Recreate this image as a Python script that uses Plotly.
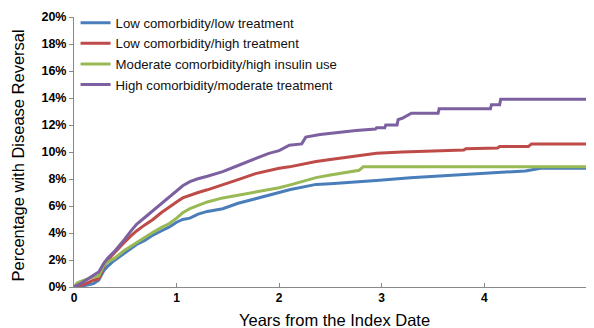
import plotly.graph_objects as go

series_names = [
    "Low comorbidity/low treatment",
    "Low comorbidity/high treatment",
    "Moderate comorbidity/high insulin use",
    "High comorbidity/moderate treatment",
]

blue_x = [0, 0.1, 0.19, 0.24, 0.29, 0.33, 0.39, 0.49, 0.55, 0.61, 0.69, 0.77, 0.85, 0.93, 1.0, 1.06, 1.13, 1.21, 1.3, 1.45, 1.6, 1.77, 1.9, 2.0, 2.1, 2.23, 2.36, 2.5, 2.7, 2.98, 3.28, 3.5, 3.73, 4.15, 4.4, 4.55, 5.0]
blue_y = [0, 0.1, 0.25, 0.5, 1.2, 1.55, 1.95, 2.5, 2.85, 3.15, 3.45, 3.85, 4.15, 4.45, 4.8, 5.0, 5.1, 5.4, 5.6, 5.8, 6.2, 6.55, 6.85, 7.0, 7.2, 7.4, 7.6, 7.65, 7.75, 7.9, 8.1, 8.2, 8.3, 8.5, 8.6, 8.8, 8.8]

red_x = [0, 0.1, 0.19, 0.24, 0.29, 0.33, 0.39, 0.43, 0.49, 0.55, 0.61, 0.69, 0.77, 0.85, 0.93, 1.0, 1.06, 1.13, 1.21, 1.3, 1.45, 1.6, 1.77, 1.9, 2.0, 2.1, 2.23, 2.36, 2.5, 2.65, 2.8, 2.95, 3.2, 3.5, 3.8, 3.82, 4.13, 4.15, 4.43, 4.46, 5.07]
red_y = [0, 0.2, 0.5, 0.6, 1.5, 2.0, 2.5, 2.85, 3.3, 3.75, 4.15, 4.6, 5.0, 5.5, 5.95, 6.3, 6.6, 6.8, 7.0, 7.2, 7.55, 7.95, 8.4, 8.65, 8.8, 8.9, 9.1, 9.3, 9.45, 9.6, 9.75, 9.9, 10.0, 10.1, 10.15, 10.25, 10.3, 10.4, 10.4, 10.6, 10.6]

green_x = [0, 0.03, 0.065, 0.19, 0.24, 0.29, 0.33, 0.39, 0.49, 0.55, 0.61, 0.69, 0.77, 0.85, 0.93, 1.0, 1.06, 1.13, 1.21, 1.3, 1.45, 1.6, 1.77, 1.9, 2.0, 2.1, 2.23, 2.36, 2.5, 2.65, 2.78, 2.82, 5.07]
green_y = [0, 0.3, 0.42, 0.75, 0.8, 1.6, 1.85, 2.1, 2.7, 3.0, 3.3, 3.7, 4.05, 4.4, 4.7, 5.1, 5.5, 5.8, 6.05, 6.3, 6.6, 6.8, 7.05, 7.25, 7.35, 7.55, 7.85, 8.1, 8.3, 8.5, 8.65, 8.9, 8.9]

purple_x = [0, 0.065, 0.19, 0.24, 0.29, 0.33, 0.39, 0.43, 0.49, 0.55, 0.61, 0.69, 0.77, 0.85, 0.93, 1.0, 1.06, 1.13, 1.2, 1.3, 1.45, 1.6, 1.77, 1.9, 2.0, 2.1, 2.22, 2.26, 2.4, 2.6, 2.75, 2.94, 2.95, 3.03, 3.04, 3.15, 3.16, 3.2, 3.25, 3.29, 3.55, 3.56, 4.06, 4.07, 4.15, 4.16, 5.07]
purple_y = [0, 0.25, 0.87, 1.1, 1.75, 2.15, 2.6, 2.95, 3.5, 4.1, 4.65, 5.15, 5.65, 6.2, 6.7, 7.1, 7.5, 7.8, 8.0, 8.2, 8.55, 9.0, 9.5, 9.9, 10.1, 10.5, 10.6, 11.1, 11.3, 11.5, 11.6, 11.7, 11.8, 11.8, 12.0, 12.0, 12.4, 12.5, 12.7, 12.87, 12.87, 13.2, 13.2, 13.5, 13.5, 13.9, 13.9]

colors = ["#4a7ebb", "#be4b48", "#98b954", "#7d60a0"]
xs = [blue_x, red_x, green_x, purple_x]
ys = [blue_y, red_y, green_y, purple_y]

y_ticks = [0, 2, 4, 6, 8, 10, 12, 14, 16, 18, 20]
y_tick_labels = [f"{v}%" for v in y_ticks]
x_ticks = [0, 1, 2, 3, 4]
x_title = "Years from the Index Date"
y_title = "Percentage with Disease Reversal"

fig = go.Figure()
for i, (name, c, x, y) in enumerate(zip(series_names, colors, xs, ys)):
    fig.add_trace(go.Scatter(x=x, y=y, mode="lines", name=name, legendgroup=f"g{i}",
                             line=dict(color=c, width=3)))

font_family = "Liberation Sans, Arial, sans-serif"
# page body has an 8px default margin, so the figure is 8px smaller on each side
fig.update_layout(
    width=586, height=320,
    margin=dict(l=66, r=0, t=9, b=41, autoexpand=False),
    paper_bgcolor="white", plot_bgcolor="white",
    font=dict(family=font_family, color="#000"),
    legend=dict(x=0.003, y=1.035, xanchor="left", yanchor="top",
                bgcolor="rgba(0,0,0,0)", font=dict(size=13.2, color="#111"),
                traceorder="grouped", tracegroupgap=0.5),
    showlegend=True,
)
fig.update_xaxes(
    range=[0, 5.07], tickvals=x_ticks, ticktext=[str(v) for v in x_ticks],
    ticks="inside", ticklen=4, tickcolor="#888", showline=True, linecolor="#888",
    linewidth=1, showgrid=False, zeroline=False, automargin=False,
    tickfont=dict(size=12, family="Liberation Sans, Arial", weight="bold"),
)
fig.update_yaxes(
    range=[0, 20], tickvals=y_ticks, ticktext=y_tick_labels,
    ticks="outside", ticklen=4, tickcolor="#888", showline=True, linecolor="#888",
    linewidth=1, showgrid=False, zeroline=False, automargin=False,
    tickfont=dict(size=12.5, family="Liberation Sans, Arial", weight="bold"),
)
fig.add_annotation(text=x_title, xref="paper", yref="paper", x=0.5, y=0,
                   xanchor="center", yanchor="middle", yshift=-33, showarrow=False,
                   font=dict(size=16.5, color="#000"))
fig.add_annotation(text=y_title, xref="paper", yref="paper", x=0, y=0.5,
                   xanchor="center", yanchor="middle", xshift=-56.5, yshift=-4,
                   textangle=-90, showarrow=False, font=dict(size=16.5, color="#000"))
fig.write_html("out.html")
